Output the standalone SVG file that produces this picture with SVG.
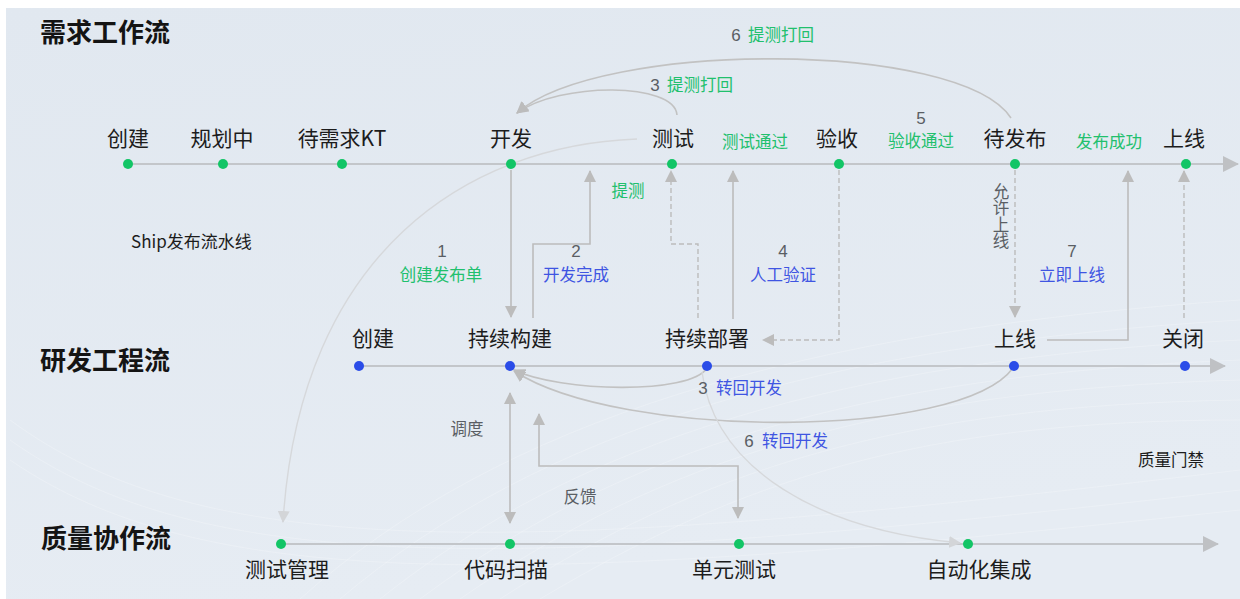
<svg xmlns="http://www.w3.org/2000/svg" width="1240" height="599" viewBox="0 0 1240 599">
<defs>
<linearGradient id="bg" x1="0" y1="0" x2="0.3" y2="1">
<stop offset="0" stop-color="#e1e8f0"/>
<stop offset="1" stop-color="#e6ecf3"/>
</linearGradient>
<marker id="ah" viewBox="0 0 12 12" refX="11" refY="6" markerWidth="12" markerHeight="12" markerUnits="userSpaceOnUse" orient="auto-start-reverse">
<path d="M0,0 L12,6 L0,12 z" fill="#bcbcbc"/>
</marker>
<marker id="ahl" viewBox="0 0 12 12" refX="11" refY="6" markerWidth="12" markerHeight="12" markerUnits="userSpaceOnUse" orient="auto">
<path d="M0,0 L12,6 L0,12 z" fill="#d3d5d8"/>
</marker>
<marker id="lane" viewBox="0 0 16 16" refX="15" refY="8" markerWidth="16" markerHeight="16" markerUnits="userSpaceOnUse" orient="auto">
<path d="M0,0 L16,8 L0,16 z" fill="#bfc1c4"/>
</marker>
<style>
.title{font-family:"Noto Sans CJK SC","Noto Sans",sans-serif;font-size:26px;font-weight:700;fill:#141414}
.node{font-family:"Noto Sans CJK SC","Noto Sans",sans-serif;font-size:21px;fill:#1c1c1c;text-anchor:middle}
.lbl{font-family:"Noto Sans CJK SC","Noto Sans",sans-serif;font-size:16.5px;text-anchor:middle}
.num{font-family:"Liberation Sans",Arial,sans-serif;font-size:17px;text-anchor:middle;fill:#5a5e64}
.vert{font-family:"Noto Sans CJK SC","Noto Sans",sans-serif;font-size:16.5px;writing-mode:vertical-rl;text-orientation:upright;fill:#5a5e64}
.g{fill:#21c06d}
.b{fill:#3f55e2}
.n{fill:#5a5e64}
.k{fill:#1c1c1c}
.laneline{stroke:#c3c6ca;stroke-width:2;fill:none}
.conn{stroke:#bcbcbc;stroke-width:1.6;fill:none}
.dash{stroke:#bcbcbc;stroke-width:1.4;fill:none;stroke-dasharray:5 3}
.curve{stroke:#c2c2c2;stroke-width:1.6;fill:none}
.light{stroke:#d6d8db;stroke-width:1.4;fill:none}
.gd{fill:#12c566}
.bd{fill:#2a4ce8}
.deco{stroke:#ffffff;stroke-opacity:0.22;stroke-width:1;fill:none}
</style>
</defs>
<rect x="0" y="0" width="1240" height="599" fill="#ffffff"/>
<rect x="6" y="8" width="1234" height="591" fill="url(#bg)"/>
<g id="decoration">
<path class="deco" d="M10 420 C 200 560 500 560 1240 470"/>
<path class="deco" d="M10 440 C 200 575 500 575 1240 490"/>
<path class="deco" d="M10 460 C 200 590 500 590 1240 510"/>
<path class="deco" d="M300 599 C 500 420 800 330 1240 300"/>
<path class="deco" d="M340 599 C 540 430 820 345 1240 320"/>
<path class="deco" d="M380 599 C 580 440 840 360 1240 340"/>
<path class="deco" d="M420 599 C 620 450 860 375 1240 360"/>
<path class="deco" d="M460 599 C 660 460 880 390 1240 380"/>
<path class="deco" d="M500 599 C 700 470 900 405 1240 400"/>
<path class="deco" d="M540 599 C 740 480 920 420 1240 420"/>
</g>
<g id="lanes">
<text class="title" x="40" y="42">需求工作流</text>
<text class="title" x="40" y="370">研发工程流</text>
<text class="title" x="41" y="548">质量协作流</text>
<line class="laneline" x1="128" y1="164" x2="1238" y2="164" marker-end="url(#lane)"/>
<line class="laneline" x1="359" y1="366" x2="1225" y2="366" marker-end="url(#lane)"/>
<line class="laneline" x1="281" y1="544" x2="1218" y2="544" marker-end="url(#lane)"/>
</g>
<g id="connectors">
<line class="conn" x1="511" y1="170" x2="511" y2="317" marker-end="url(#ah)"/>
<polyline class="conn" points="533,318 533,244 590,244 590,171" marker-end="url(#ah)"/>
<polyline class="dash" points="698,318 698,244 671,244 671,171" marker-end="url(#ah)"/>
<line class="conn" x1="733" y1="319" x2="733" y2="171" marker-end="url(#ah)"/>
<polyline class="dash" points="839,170 839,340 763,340" marker-end="url(#ah)"/>
<line class="dash" x1="1015" y1="170" x2="1015" y2="317" marker-end="url(#ah)"/>
<polyline class="conn" points="1047,340 1128,340 1128,171" marker-end="url(#ah)"/>
<line class="dash" x1="1184" y1="318" x2="1184" y2="171" marker-end="url(#ah)"/>
<path class="curve" d="M677 115 C 675 82 560 82 517 113" marker-end="url(#ah)"/>
<path class="curve" d="M1011 118 C 960 40 600 40 517 113" marker-end="url(#ah)"/>
<path class="light" d="M637 139 C 470 145 300 250 283 522" marker-end="url(#ahl)"/>
<path class="curve" d="M707 368 C 690 395 560 392 514 370" marker-end="url(#ah)"/>
<path class="curve" d="M1013 368 C 960 440 620 440 514 371" marker-end="url(#ah)"/>
<path class="light" d="M702 372 C 715 470 820 530 960 543" marker-end="url(#ahl)"/>
<line class="conn" x1="510" y1="393" x2="510" y2="523" marker-start="url(#ah)" marker-end="url(#ah)"/>
<polyline class="conn" points="539,414 539,466 738,466 738,518" marker-start="url(#ah)" marker-end="url(#ah)"/>
</g>
<g id="connector-labels">
<text class="num" x="655" y="91">3</text>
<text class="lbl g" x="700" y="91">提测打回</text>
<text class="num" x="736" y="41">6</text>
<text class="lbl g" x="781" y="41">提测打回</text>
<text class="lbl g" x="755" y="148">测试通过</text>
<text class="num" x="921" y="124">5</text>
<text class="lbl g" x="921" y="147">验收通过</text>
<text class="lbl g" x="1109" y="148">发布成功</text>
<text class="lbl g" x="628" y="197">提测</text>
<text class="num" x="442" y="257">1</text>
<text class="lbl g" x="441" y="281">创建发布单</text>
<text class="num" x="576" y="257">2</text>
<text class="lbl b" x="576" y="281">开发完成</text>
<text class="num" x="783" y="257">4</text>
<text class="lbl b" x="783" y="281">人工验证</text>
<text class="num" x="1072" y="257">7</text>
<text class="lbl b" x="1072" y="281">立即上线</text>
<text class="vert" x="1001" y="183">允许上线</text>
<text class="num" x="703" y="394">3</text>
<text class="lbl b" x="749" y="394">转回开发</text>
<text class="num" x="749" y="447">6</text>
<text class="lbl b" x="795" y="447">转回开发</text>
<text class="lbl n" x="467" y="435">调度</text>
<text class="lbl n" x="580" y="503">反馈</text>
<text class="lbl k" x="131" y="248" style="text-anchor:start;font-size:17px">Ship发布流水线</text>
<text class="lbl k" x="1171" y="466">质量门禁</text>
</g>
<g id="node-req-create"><circle class="gd" cx="128" cy="164" r="5"/><text class="node" x="128" y="146">创建</text></g>
<g id="node-req-plan"><circle class="gd" cx="223" cy="164" r="5"/><text class="node" x="222" y="146">规划中</text></g>
<g id="node-req-kt"><circle class="gd" cx="342" cy="164" r="5"/><text class="node" x="342" y="146">待需求KT</text></g>
<g id="node-req-dev"><circle class="gd" cx="511" cy="164" r="5"/><text class="node" x="511" y="146">开发</text></g>
<g id="node-req-test"><circle class="gd" cx="672" cy="164" r="5"/><text class="node" x="673" y="146">测试</text></g>
<g id="node-req-accept"><circle class="gd" cx="839" cy="164" r="5"/><text class="node" x="837" y="146">验收</text></g>
<g id="node-req-pending"><circle class="gd" cx="1015" cy="164" r="5"/><text class="node" x="1015" y="146">待发布</text></g>
<g id="node-req-online"><circle class="gd" cx="1186" cy="164" r="5"/><text class="node" x="1184" y="146">上线</text></g>
<g id="node-dev-create"><circle class="bd" cx="359" cy="366" r="5"/><text class="node" x="373" y="346">创建</text></g>
<g id="node-dev-build"><circle class="bd" cx="510" cy="366" r="5"/><text class="node" x="510" y="346">持续构建</text></g>
<g id="node-dev-deploy"><circle class="bd" cx="707" cy="366" r="5"/><text class="node" x="707" y="346">持续部署</text></g>
<g id="node-dev-online"><circle class="bd" cx="1014" cy="366" r="5"/><text class="node" x="1015" y="346">上线</text></g>
<g id="node-dev-close"><circle class="bd" cx="1185" cy="366" r="5"/><text class="node" x="1183" y="346">关闭</text></g>
<g id="node-qa-testmgmt"><circle class="gd" cx="281" cy="544" r="5"/><text class="node" x="287" y="577">测试管理</text></g>
<g id="node-qa-scan"><circle class="gd" cx="510" cy="544" r="5"/><text class="node" x="506" y="577">代码扫描</text></g>
<g id="node-qa-unit"><circle class="gd" cx="739" cy="544" r="5"/><text class="node" x="734" y="577">单元测试</text></g>
<g id="node-qa-auto"><circle class="gd" cx="968" cy="544" r="5"/><text class="node" x="979" y="577">自动化集成</text></g>
</svg>
